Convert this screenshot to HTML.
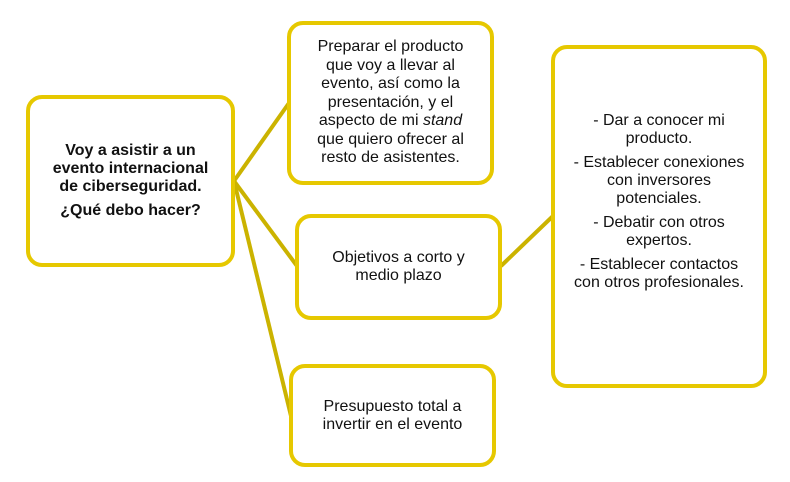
<!DOCTYPE html>
<html><head><meta charset="utf-8"><style>
body{margin:0;width:790px;height:482px;background:#fff;position:relative;font-family:"Liberation Sans",sans-serif;overflow:hidden}
.b{position:absolute;box-sizing:border-box;border:4px solid #e6c800;border-radius:16px;background:#fff;display:flex;flex-direction:column;justify-content:center;align-items:center;text-align:center;font-size:16px;line-height:18px;color:#111}
p{margin:0 0 6px}
</style></head><body>
<svg width="790" height="482" style="position:absolute;left:0;top:0">
<g stroke="#cbb300" stroke-width="4" fill="none">
<line x1="234" y1="181" x2="289" y2="103"/>
<line x1="234" y1="181" x2="297" y2="266"/>
<line x1="234" y1="181" x2="291" y2="416"/>
<line x1="501" y1="266" x2="553" y2="216"/>
</g></svg>
<div class="b" style="left:26px;top:95px;width:209px;height:172px;font-weight:bold;padding-top:6px"><div><p>Voy a asistir a un<br>evento internacional<br>de ciberseguridad.</p><p>¿Qué debo hacer?</p></div></div>
<div class="b" style="left:287px;top:21px;width:207px;height:164px;line-height:18.5px"><div>Preparar el producto<br>que voy a llevar al<br>evento, así como la<br>presentación, y el<br>aspecto de mi <i>stand</i><br>que quiero ofrecer al<br>resto de asistentes.</div></div>
<div class="b" style="left:295px;top:214px;width:207px;height:106px"><div>Objetivos a corto y<br>medio plazo</div></div>
<div class="b" style="left:289px;top:364px;width:207px;height:103px"><div>Presupuesto total a<br>invertir en el evento</div></div>
<div class="b" style="left:551px;top:45px;width:216px;height:343px;justify-content:flex-start;padding-top:63px"><div><p>- Dar a conocer mi<br>producto.</p><p>- Establecer conexiones<br>con inversores<br>potenciales.</p><p>- Debatir con otros<br>expertos.</p><p>- Establecer contactos<br>con otros profesionales.</p></div></div>
</body></html>
